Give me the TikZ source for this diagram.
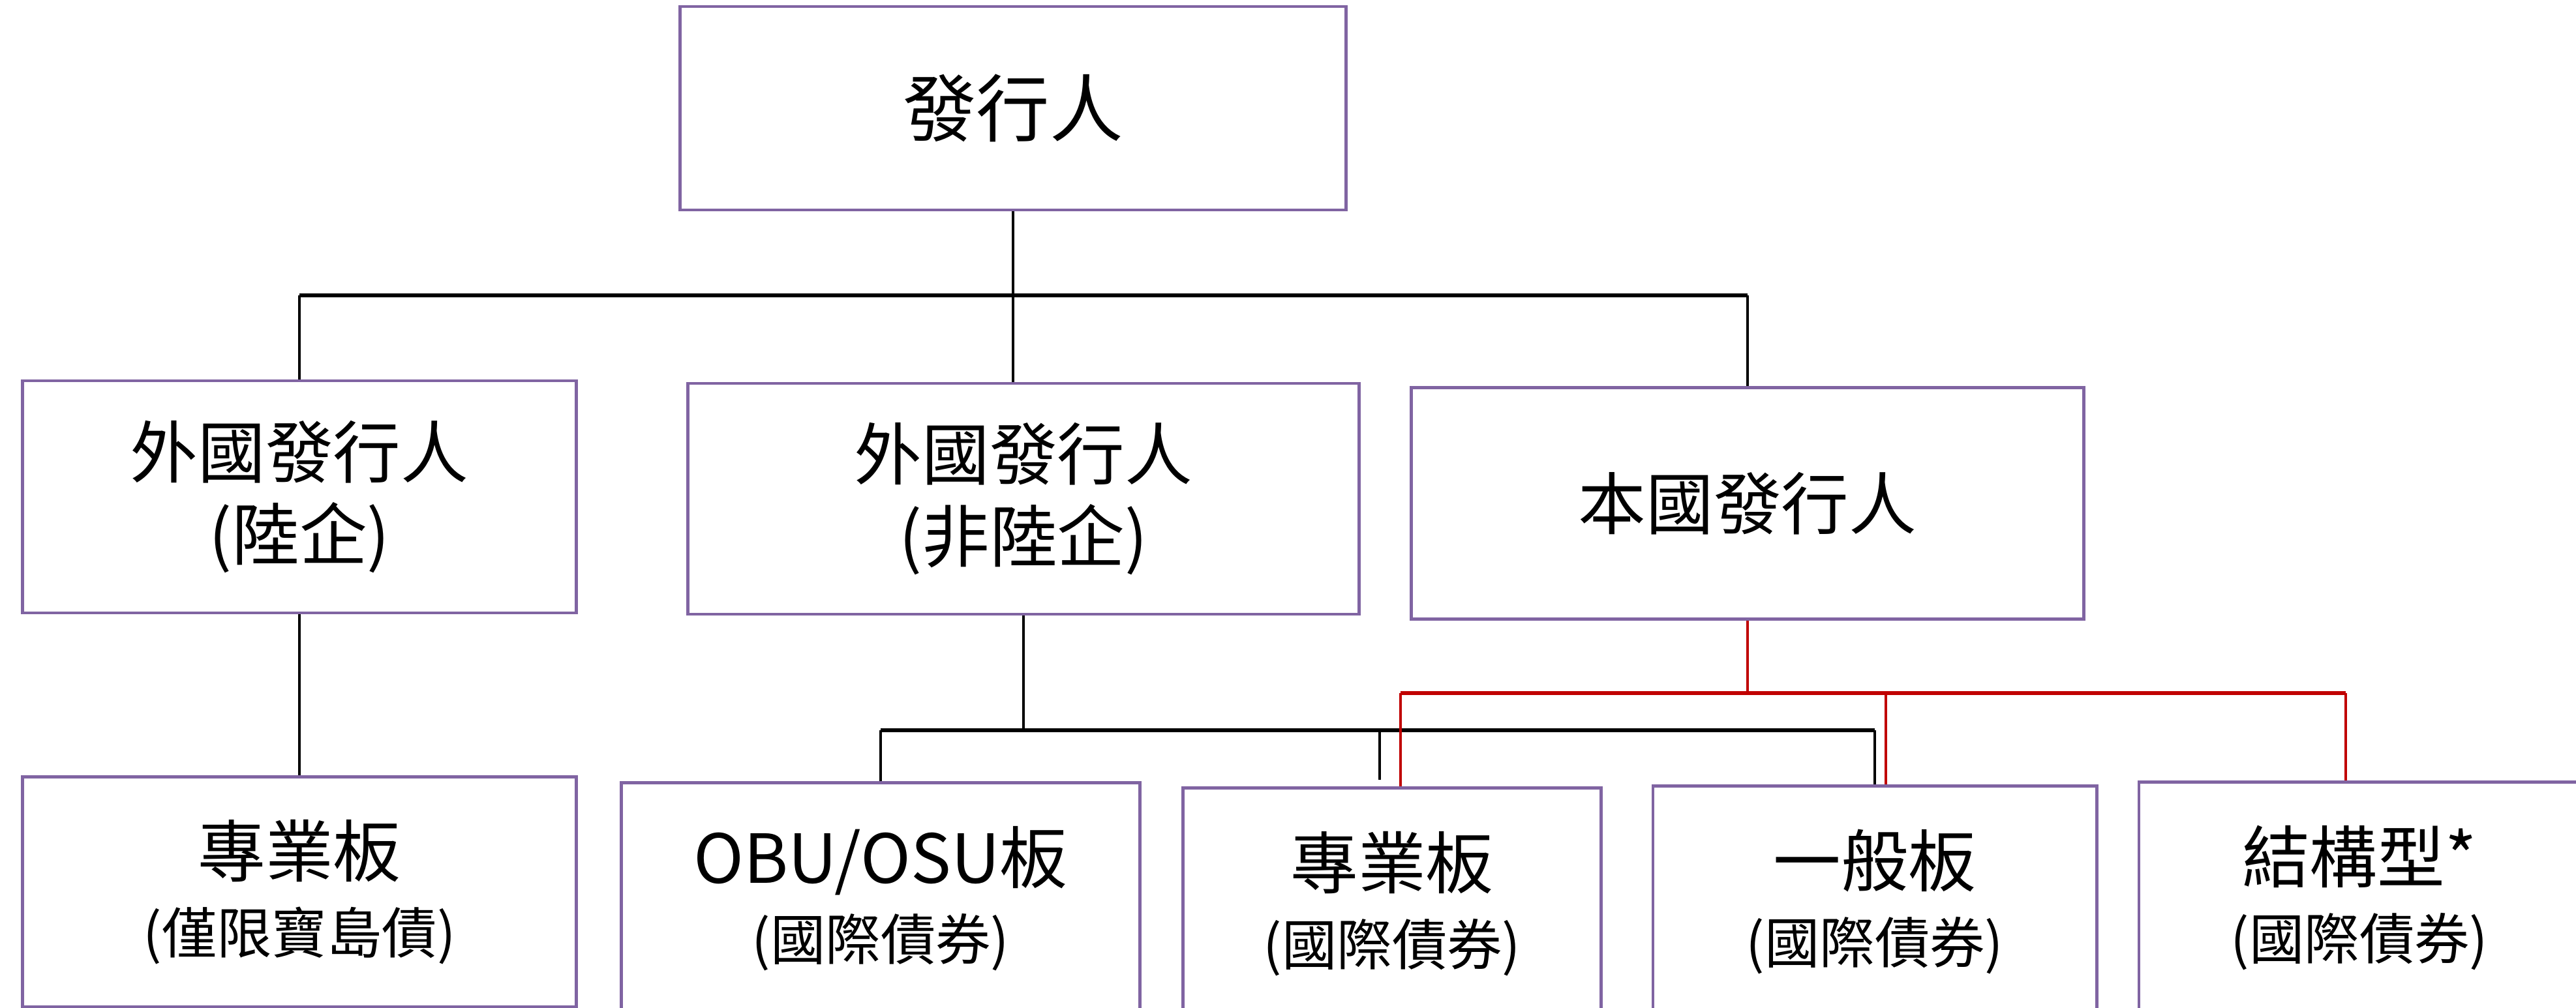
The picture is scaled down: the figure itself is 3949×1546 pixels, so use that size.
\documentclass[tikz,border=0pt]{standalone}
\usepackage{fontspec}
\setmainfont{Noto Sans CJK TC}
\usetikzlibrary{calc}

\definecolor{boxpurple}{HTML}{8064A2}
\definecolor{linkred}{HTML}{C00000}

\begin{document}
\begin{tikzpicture}[x=0.01cm, y=-0.01cm]

\tikzstyle box=[draw=boxpurple, line width=1.3pt, align=center, inner sep=0pt, text=black]
\tikzstyle upper=[box, font=\fontsize{29.5}{36}\selectfont]
\tikzstyle lower=[box, minimum height=3.55cm, font=\fontsize{29.5}{33.5}\selectfont]
\tikzstyle link=[line width=1pt, black]
\tikzstyle bus=[line width=1.8pt, black]
\tikzstyle redlink=[line width=1pt, linkred]
\tikzstyle redbus=[line width=1.8pt, linkred]

\clip (0,0) rectangle (3949,1546);
\useasboundingbox (0,0) rectangle (3949,1546);

\node (issuer) [box, minimum width=10.2cm, minimum height=3.12cm, font=\fontsize{32}{38}\selectfont] at (1553,166) {發行人};

\node (cnfor) [upper, minimum width=8.48cm, minimum height=3.56cm] at (459,762) {外國發行人\\(陸企)};
\node (nonfor) [upper, minimum width=10.28cm, minimum height=3.54cm] at (1569,765) {外國發行人\\(非陸企)};
\node (local) [upper, minimum width=10.3cm, minimum height=3.55cm] at (2679,772) {本國發行人};

\node (prolim) [lower, minimum width=8.48cm, minimum height=3.53cm] at (459,1368) {專業板\\{\fontsize{24}{33}\selectfont(僅限寶島債)}};
\node (obu) [lower, minimum width=7.94cm] at (1350,1378) {OBU/OSU板\\{\fontsize{24}{33}\selectfont(國際債券)}};
\node (pro) [lower, minimum width=6.41cm] at (2134,1386) {專業板\\{\fontsize{24}{33}\selectfont(國際債券)}};
\node (gen) [lower, minimum width=6.8cm] at (2874,1383) {一般板\\{\fontsize{24}{33}\selectfont(國際債券)}};
\node (struct) [lower, minimum width=6.76cm] at (3617,1377) {結構型*\\{\fontsize{24}{33}\selectfont(國際債券)}};

% top level
\coordinate (topbus) at (1553,453);
\draw [link] (issuer.south) -- (topbus);
\draw [bus] (cnfor.north |- topbus) -- (local.north |- topbus);
\draw [link] (cnfor.north |- topbus) -- (cnfor.north);
\draw [link] (topbus) -- (topbus |- nonfor.north);
\draw [link] (local.north |- topbus) -- (local.north);

\draw [link] (cnfor.south) -- (prolim.north);

% foreign issuers, boards
\coordinate (midbus) at (1569,1120);
\coordinate (prodrop) at (2115,1196);
\draw [link] (nonfor.south) -- (midbus);
\draw [bus] (obu.north |- midbus) -- (gen.north |- midbus);
\draw [link] (obu.north |- midbus) -- (obu.north);
\draw [link] (prodrop |- midbus) -- (prodrop);
\draw [link] (gen.north |- midbus) -- (gen.north);

% local issuers, boards
\coordinate (redbus) at (2679,1063);
\coordinate (redpro) at (2147,1063);
\coordinate (redgen) at (2891,1063);
\coordinate (redstruct) at (3596,1063);
\draw [redlink] (local.south) -- (redbus);
\draw [redbus] (redpro) -- (redstruct);
\foreach \b/\c in {pro/redpro, gen/redgen, struct/redstruct}
{
\draw [redlink] (\c) -- (\c |- \b.north);
}

\end{tikzpicture}
\end{document}
